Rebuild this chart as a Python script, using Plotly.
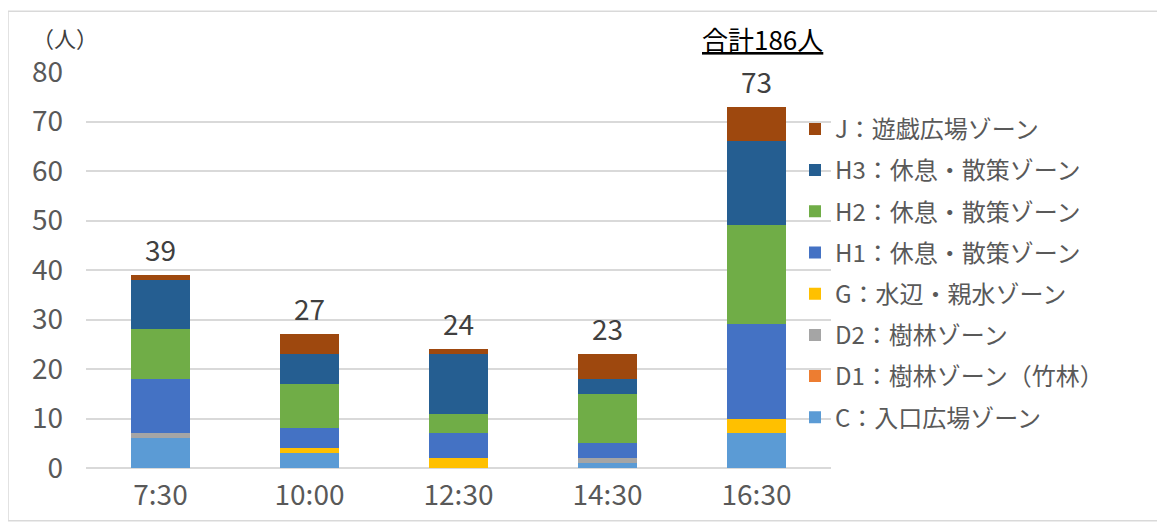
import plotly.graph_objects as go

categories = ["7:30", "10:00", "12:30", "14:30", "16:30"]
zone_c = [6, 3, 0, 1, 7]
zone_d1 = [0, 0, 0, 0, 0]
zone_d2 = [1, 0, 0, 1, 0]
zone_g = [0, 1, 2, 0, 3]
zone_h1 = [11, 4, 5, 3, 19]
zone_h2 = [10, 9, 4, 10, 20]
zone_h3 = [10, 6, 12, 3, 17]
zone_j = [1, 4, 1, 5, 7]
y_ticks = [0, 10, 20, 30, 40, 50, 60, 70, 80]

series = [
    ("C：入口広場ゾーン", zone_c, "#5B9BD5"),
    ("D1：樹林ゾーン（竹林）", zone_d1, "#ED7D31"),
    ("D2：樹林ゾーン", zone_d2, "#A5A5A5"),
    ("G：水辺・親水ゾーン", zone_g, "#FFC000"),
    ("H1：休息・散策ゾーン", zone_h1, "#4472C4"),
    ("H2：休息・散策ゾーン", zone_h2, "#70AD47"),
    ("H3：休息・散策ゾーン", zone_h3, "#255E91"),
    ("J：遊戯広場ゾーン", zone_j, "#9E480E"),
]

# page body has an 8px margin; figure is placed at screen (8, 8)
OFF = 8
W, H = 1165 - OFF, 525 - OFF
PL, PR, PT, PB = 86, 831, 72, 470  # plot area in screen pixels
L, T = PL - OFF, PT - OFF
R, B = W - (PR - OFF), H - (PB - OFF)
PW, PH = PR - PL, PB - PT


def px_x(x):
    return (x - PL) / PW


def px_y(y):
    return (PB - y) / PH


FONT = "Noto Sans CJK JP"
TXT = "#595959"

fig = go.Figure()
n = len(series)
for i, (name, vals, color) in enumerate(series):
    fig.add_trace(go.Bar(
        x=categories, y=vals, name=name, legendgroup=name,
        legendrank=1000 + (n - i),
        marker=dict(color=color, line=dict(width=0)),
    ))

totals = [sum(v) for v in zip(*[s[1] for s in series])]
annotations = []
for c, t in zip(categories, totals):
    annotations.append(dict(
        x=c, y=t, xref="x", yref="y", text=str(t), showarrow=False,
        yanchor="bottom", yshift=4,
        font=dict(family=FONT, size=28, color="#404040"),
    ))

annotations.append(dict(
    x=px_x(65), y=px_y(37), xref="paper", yref="paper", text="（人）",
    showarrow=False, xanchor="center", yanchor="middle",
    font=dict(family=FONT, size=22, color="#404040"),
))
annotations.append(dict(
    x=px_x(762), y=px_y(38), xref="paper", yref="paper", text="<u>合計186人</u>",
    showarrow=False, xanchor="center", yanchor="middle",
    font=dict(family=FONT, size=26, color="#000000"),
))

fig.update_layout(
    width=W, height=H,
    margin=dict(l=L, r=R, t=T, b=B, pad=0),
    barmode="stack", bargap=0.6,
    paper_bgcolor="white", plot_bgcolor="white",
    font=dict(family=FONT, color=TXT),
    xaxis=dict(
        showgrid=False, showline=False, ticks="", ticklabelstandoff=8,
        tickfont=dict(family=FONT, size=28, color=TXT),
    ),
    yaxis=dict(
        range=[0, 80], tickvals=y_ticks, showgrid=True,
        gridcolor="#D9D9D9", gridwidth=1.5, zeroline=True,
        zerolinecolor="#D9D9D9", zerolinewidth=1.5,
        showline=False, ticks="", ticklabelstandoff=22,
        tickfont=dict(family=FONT, size=28, color=TXT),
    ),
    legend=dict(
        x=px_x(795), y=px_y(107), xanchor="left", yanchor="top",
        traceorder="grouped", tracegroupgap=7,
        bgcolor="rgba(0,0,0,0)",
        font=dict(family=FONT, size=24, color=TXT),
        itemwidth=30,
    ),
    annotations=annotations,
    shapes=[dict(
        type="rect", xref="paper", yref="paper",
        x0=px_x(8), x1=px_x(1163), y0=px_y(523), y1=px_y(11),
        line=dict(color="#D9D9D9", width=1.5), fillcolor="rgba(0,0,0,0)",
        layer="below",
    )],
    showlegend=True,
)

fig.write_html("out.html")
